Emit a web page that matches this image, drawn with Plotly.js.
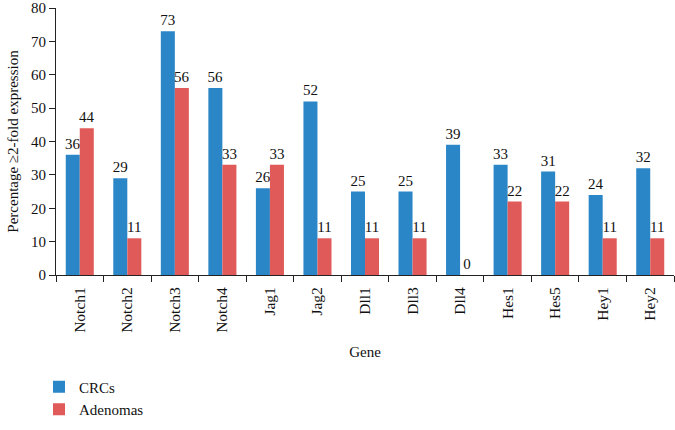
<!DOCTYPE html>
<html>
<head>
<meta charset="utf-8">
<script src="https://cdn.plot.ly/plotly-3.0.1.min.js"></script>
<style>html,body{margin:0;padding:0;background:#fff;}#chart{width:675px;height:430px;}</style>
</head>
<body>
<div id="chart"></div>
<script>
const genes = ["Notch1","Notch2","Notch3","Notch4","Jag1","Jag2","Dll1","Dll3","Dll4","Hes1","Hes5","Hey1","Hey2"];
const crcs = [36,29,73,56,26,52,25,25,39,33,31,24,32];
const adenomas = [44,11,56,33,33,11,11,11,0,22,22,11,11];

const FONT = "Liberation Serif, Times New Roman, serif";
const textFont = {family: FONT, size: 15, color: "#111"};

const traces = [
  {type:"bar", name:"CRCs", x:genes, y:crcs, marker:{color:"#2a86c6"},
   text:crcs.map(String), textposition:"outside", textfont:textFont, cliponaxis:false, constraintext:"none", textangle:0},
  {type:"bar", name:"Adenomas", x:genes, y:adenomas, marker:{color:"#e05a59"},
   text:adenomas.map(String), textposition:"outside", textfont:textFont, cliponaxis:false, constraintext:"none", textangle:0}
];

const layout = {
  width:675, height:430,
  margin:{l:56, r:1, t:8, b:155, autoexpand:false},
  paper_bgcolor:"#fff", plot_bgcolor:"#fff",
  font:{family:FONT, size:15, color:"#111"},
  barmode:"group", bargap:0.41, bargroupgap:0,
  showlegend:true,
  legend:{orientation:"v", x:-0.0275, y:-0.358, xanchor:"left", yanchor:"top",
          font:{family:FONT, size:15, color:"#111"}, itemwidth:30, tracegroupgap:0},
  xaxis:{type:"category", automargin:false, showline:true, linecolor:"#222", linewidth:1, ticks:"outside", ticklen:6, tickcolor:"#222",
         tickson:"boundaries", tickangle:-90, showgrid:false, zeroline:false, ticklabeloverflow:"allow", ticklabelstandoff:5,
         tickfont:{family:FONT, size:15.5, color:"#111"},
         title:{text:"Gene", font:{family:FONT, size:15, color:"#111"}, standoff:14}},
  yaxis:{range:[0,80], dtick:10, automargin:false, ticklabeloverflow:"allow",
         showline:true, linecolor:"#222", linewidth:1, ticks:"outside", ticklen:6, tickcolor:"#222",
         showgrid:false, zeroline:false, tickfont:{family:FONT, size:15, color:"#111"},
         title:{text:"Percentage ≥2-fold expression", font:{family:FONT, size:15, color:"#111"}, standoff:8}}
};

Plotly.newPlot("chart", traces, layout, {displayModeBar:false, staticPlot:true});
</script>
</body>
</html>
